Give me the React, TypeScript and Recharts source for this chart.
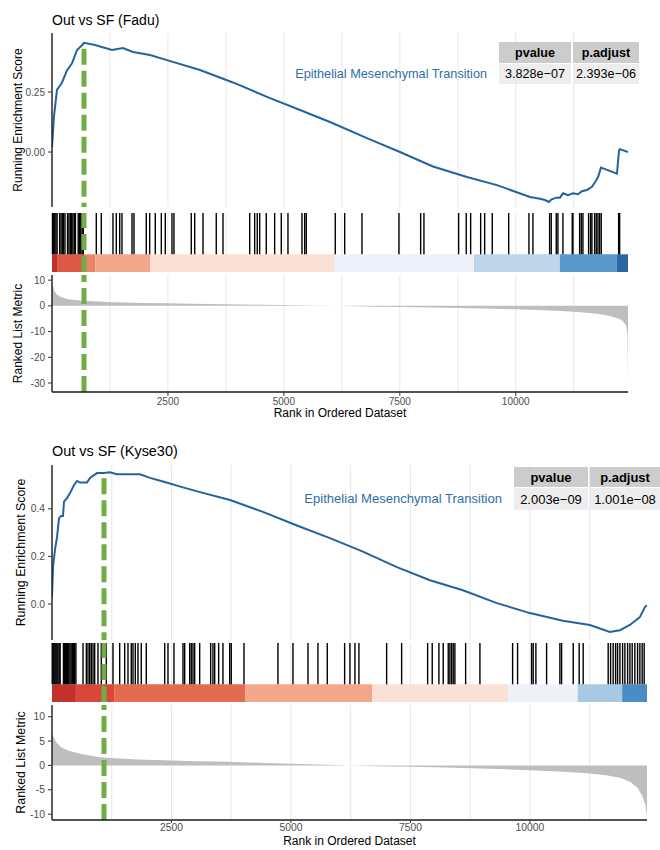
import React from 'react';
import {
  ComposedChart,
  Line,
  Area,
  XAxis,
  YAxis,
  CartesianGrid,
  ReferenceLine,
  ReferenceArea,
} from 'recharts';

const FONT = '"Liberation Sans", Arial, Helvetica, sans-serif';

// shared x axis
const gridRanks = [1250, 2500, 3750, 5000, 6250, 7500, 8750, 10000, 11250];
const rankTicks = [2500, 5000, 7500, 10000];
const geneSetName = 'Epithelial Mesenchymal Transition';

// ---------- Out vs SF (Fadu) ----------
const faduGenes = 12420;
const faduPeakRank = 690;
const faduEsRank = [0, 43, 108, 151, 216, 323, 431, 539, 647, 690, 927, 1294, 1531, 1746, 2113, 2479, 3191, 3902, 4635, 5347, 5994, 6791, 7503, 8214, 8947, 9594, 10306, 10521, 10629, 10715, 10765, 10873, 10952, 11017, 11125, 11233, 11341, 11427, 11535, 11643, 11729, 11772, 11837, 12182, 12225, 12245, 12420];
const faduEsScore = [0.02, 0.15, 0.26, 0.27, 0.29, 0.34, 0.37, 0.425, 0.445, 0.455, 0.446, 0.425, 0.433, 0.417, 0.404, 0.383, 0.342, 0.29, 0.23, 0.175, 0.125, 0.058, 0.0, -0.06, -0.104, -0.138, -0.187, -0.195, -0.2, -0.208, -0.198, -0.19, -0.19, -0.172, -0.18, -0.172, -0.176, -0.163, -0.158, -0.145, -0.12, -0.105, -0.065, -0.09, 0.005, 0.012, 0.0];
const faduHits = [10, 35, 60, 85, 110, 165, 195, 225, 250, 280, 335, 365, 395, 420, 450, 480, 505, 565, 590, 620, 650, 675, 955, 1063, 1315, 1386, 1460, 1509, 1725, 1768, 2033, 2106, 2227, 2357, 2443, 2587, 2630, 3003, 3077, 3256, 3542, 3687, 4263, 4370, 4426, 4478, 4620, 4801, 4944, 5088, 5390, 5448, 5483, 6108, 6311, 6684, 7481, 7949, 8020, 8768, 8932, 9027, 9243, 9329, 9493, 9847, 10284, 10370, 10730, 10765, 10873, 10909, 11017, 11218, 11233, 11377, 11412, 11448, 11571, 11614, 11642, 11700, 11735, 11772, 11808, 11843, 12218, 12240];
const faduBandEdges = [0, 108, 690, 930, 2120, 6100, 9100, 10950, 12180, 12420];
const faduBandLevel = [0, 2, 4, 5, 6, 7, 8, 10, 12];
const faduMetricRank = [0, 20, 50, 100, 200, 350, 500, 700, 1000, 1300, 2000, 2500, 3000, 3800, 4500, 5000, 5600, 6200, 6300, 7000, 7500, 8200, 8800, 9500, 10000, 10600, 11000, 11400, 11800, 12000, 12200, 12300, 12380, 12410, 12420];
const faduMetricValue = [10.2, 8, 5.8, 4.5, 3.3, 2.6, 2.3, 2.0, 1.7, 1.4, 1.15, 1.0, 0.85, 0.6, 0.45, 0.32, 0.18, 0.02, -0.02, -0.3, -0.45, -0.65, -0.85, -1.1, -1.35, -1.7, -2.0, -2.5, -3.2, -3.8, -4.8, -5.8, -7.5, -11, -31];
const faduPvalue = '3.828e\u221207';
const faduPadjust = '2.393e\u221206';

// ---------- Out vs SF (Kyse30) ----------
const kyseGenes = 12450;
const kysePeakRank = 1088;
const kyseEsRank = [0, 21, 63, 105, 146, 188, 230, 251, 314, 377, 460, 523, 586, 732, 795, 941, 1088, 1213, 1360, 1569, 1841, 2050, 2322, 2741, 3096, 3724, 4414, 5125, 5816, 6506, 7217, 7908, 8598, 9309, 10000, 10690, 11255, 11673, 11883, 12092, 12301, 12406, 12450];
const kyseEsScore = [0.03, 0.155, 0.23, 0.28, 0.36, 0.37, 0.37, 0.43, 0.445, 0.466, 0.5, 0.517, 0.51, 0.51, 0.53, 0.55, 0.55, 0.553, 0.545, 0.545, 0.545, 0.53, 0.515, 0.49, 0.47, 0.437, 0.387, 0.33, 0.277, 0.22, 0.155, 0.1, 0.058, 0.004, -0.038, -0.07, -0.088, -0.117, -0.11, -0.088, -0.055, -0.013, -0.005];
const kyseHits = [5, 25, 45, 65, 85, 105, 125, 150, 170, 240, 260, 280, 300, 325, 350, 375, 400, 425, 450, 475, 500, 649, 718, 753, 789, 822, 858, 893, 962, 1031, 1136, 1276, 1416, 1521, 1590, 1659, 1695, 1743, 1799, 1868, 1973, 2358, 2427, 2552, 2741, 2776, 2881, 2914, 2950, 2985, 3090, 3320, 3368, 3404, 3487, 3577, 3718, 3751, 4017, 4728, 5042, 5356, 5565, 5760, 6123, 6234, 6339, 6422, 7002, 7316, 7860, 7956, 8096, 8186, 8291, 8326, 8362, 8395, 8430, 8655, 8954, 9638, 9742, 10035, 10069, 10125, 10349, 10627, 10663, 10906, 11031, 11115, 11638, 11688, 11742, 11793, 11834, 11883, 11939, 11987, 12044, 12092, 12140, 12196, 12253, 12301, 12349, 12391];
const kyseBandEdges = [0, 500, 1300, 4040, 6700, 9540, 11000, 11930, 12450];
const kyseBandLevel = [0, 1, 3, 5, 6, 7, 9, 11];
const kyseMetricRank = [0, 20, 50, 100, 200, 350, 500, 700, 1000, 1300, 1800, 2500, 3000, 3700, 4500, 5000, 5600, 6100, 6200, 6800, 7500, 8200, 8800, 9500, 10000, 10600, 11200, 11600, 11900, 12100, 12250, 12350, 12420, 12450];
const kyseMetricValue = [7.2, 6.2, 5.4, 4.6, 3.7, 3.0, 2.6, 2.2, 1.7, 1.45, 1.2, 1.0, 0.88, 0.73, 0.5, 0.35, 0.17, 0.02, -0.02, -0.15, -0.28, -0.45, -0.6, -0.8, -1.0, -1.25, -1.6, -2.0, -2.6, -3.4, -4.6, -6.2, -8.2, -10.5];
const kysePvalue = '2.003e\u221209';
const kysePadjust = '1.001e\u221208';

// band colours, red (high metric) to blue (low metric)
const bandPalette = ['#c3312a', '#d9473a', '#dc5a45', '#e36b50', '#ea8468', '#f3a88b', '#fbe1d5', '#edf1f9', '#bed5ea', '#a8c9e4', '#5a97cb', '#4a8cc6', '#2b65a8'];

const BLUE = '#22649e';
const GREEN = '#70AD47';

const panels = [
  {
    title: 'Out vs SF (Fadu)',
    genes: faduGenes, peak: faduPeakRank,
    esRank: faduEsRank, esScore: faduEsScore, esDomain: [-0.229, 0.496], esTicks: [0, 0.25], esDigits: 2,
    hits: faduHits, bandEdges: faduBandEdges, bandLevel: faduBandLevel,
    metricRank: faduMetricRank, metricValue: faduMetricValue, metricDomain: [-33.5, 12], metricTicks: [10, 0, -10, -20, -30],
    pvalue: faduPvalue, padjust: faduPadjust,
    lay: {
      width: 640, right: 12, font: 1,
      titleTop: 12, esTop: 30, esH: 177, esMT: 3,
      hitsTop: 207, hitsH: 65, hitsMT: 6,
      metTop: 272, metH: 150, metMT: 3, xAxisH: 30, xTitleOff: 5, xTickSize: 4, xTickMargin: 2, xTitleSize: 12,
      yTitleX: 18,
      labelRight: 173, labelTop: 66,
      tableLeft: 499, tableTop: 42, colW: [72, 66], rowH: [21, 20],
    },
  },
  {
    title: 'Out vs SF (Kyse30)',
    genes: kyseGenes, peak: kysePeakRank,
    esRank: kyseEsRank, esScore: kyseEsScore, esDomain: [-0.151, 0.584], esTicks: [0, 0.2, 0.4], esDigits: 1,
    hits: kyseHits, bandEdges: kyseBandEdges, bandLevel: kyseBandLevel,
    metricRank: kyseMetricRank, metricValue: kyseMetricValue, metricDomain: [-11.2, 12.4], metricTicks: [10, 5, 0, -5, -10],
    pvalue: kysePvalue, padjust: kysePadjust,
    lay: {
      width: 660, right: 13, font: 1.03,
      titleTop: 443, esTop: 462, esH: 178, esMT: 3,
      hitsTop: 640, hitsH: 62, hitsMT: 3,
      metTop: 702, metH: 145, metMT: 3, xAxisH: 27, xTitleOff: 2, xTickSize: 3, xTickMargin: 1, xTitleSize: 12,
      yTitleX: 21,
      labelRight: 158, labelTop: 491,
      tableLeft: 514, tableTop: 467, colW: [74, 70], rowH: [20, 22],
    },
  },
];

const yTitle = (text: string, x: number, size: number) => (props: any) => {
  const vb = props.viewBox || {};
  const cy = vb.y + vb.height / 2;
  return (
    <text x={x} y={cy} transform={`rotate(-90 ${x} ${cy})`} textAnchor="middle" dominantBaseline="central"
      fontSize={size} fontFamily={FONT} fill="#000">{text}</text>
  );
};

const xTitle = (text: string, off: number, size: number) => (props: any) => {
  const vb = props.viewBox || {};
  return (
    <text x={vb.x + vb.width / 2} y={vb.y + vb.height - off} textAnchor="middle"
      fontSize={size} fontFamily={FONT} fill="#000">{text}</text>
  );
};

function GseaPanel({ p }: { p: any }) {
  const L = p.lay;
  const f = L.font;
  const esData = p.esRank.map((rank: number, i: number) => ({ rank, es: p.esScore[i] }));
  const metricData = p.metricRank.map((rank: number, i: number) => ({ rank, metric: p.metricValue[i] }));
  // hits panel needs one (invisible) series so the reference marks get drawn
  const hitData = p.hits.map((rank: number) => ({ rank, y: 1 }));
  const peakEs = Math.max(...p.esScore);
  const tick = { fill: '#4d4d4d', fontSize: 10 * f, fontFamily: FONT };
  const axisLine = { stroke: '#1a1a1a', strokeWidth: 1.4 };
  const tickLine = { stroke: '#333' };
  const grid = <CartesianGrid horizontal={false} verticalValues={gridRanks} stroke="#e8e8e8" />;
  const xAxis = (hide: boolean) => (
    <XAxis dataKey="rank" type="number" domain={[0, p.genes]} allowDataOverflow hide={hide}
      ticks={rankTicks} tick={tick} tickLine={tickLine} axisLine={axisLine} tickSize={L.xTickSize} tickMargin={L.xTickMargin}
      height={L.xAxisH} label={hide ? undefined : xTitle('Rank in Ordered Dataset', L.xTitleOff, L.xTitleSize)} />
  );

  return (
    <>
      <div style={{ position: 'absolute', left: 52, top: L.titleTop, fontSize: 14 * f, lineHeight: '16px', color: '#000', whiteSpace: 'nowrap' }}>
        {p.title}
      </div>

      <div style={{ position: 'absolute', left: 0, top: L.esTop }}>
        <ComposedChart width={L.width} height={L.esH} data={esData} margin={{ top: L.esMT, right: L.right, bottom: 0, left: 8 }}>
          {grid}
          {xAxis(true)}
          <YAxis type="number" domain={p.esDomain} allowDataOverflow ticks={p.esTicks} width={44}
            tick={tick} tickLine={tickLine} axisLine={axisLine} tickSize={4} tickMargin={3}
            tickFormatter={(v: number) => v.toFixed(p.esDigits)}
            label={yTitle('Running Enrichment Score', L.yTitleX, 12 * f)} />
          <Line type="linear" dataKey="es" stroke={BLUE} strokeWidth={2} dot={false} isAnimationActive={false} />
          <ReferenceLine segment={[{ x: p.peak, y: peakEs - 0.025 }, { x: p.peak, y: p.esDomain[0] }]}
            stroke={GREEN} strokeWidth={5} strokeDasharray="16 6" />
        </ComposedChart>
      </div>

      <div style={{ position: 'absolute', left: 0, top: L.hitsTop }}>
        <ComposedChart width={L.width} height={L.hitsH} data={hitData} margin={{ top: L.hitsMT, right: L.right, bottom: 0, left: 52 }}>
          {grid}
          {xAxis(true)}
          <YAxis type="number" domain={[0, 1]} allowDataOverflow hide />
          <Line type="linear" dataKey="y" stroke="none" dot={false} activeDot={false} isAnimationActive={false} />
          {p.hits.map((r: number) => (
            <ReferenceLine key={r} segment={[{ x: r, y: 0.3 }, { x: r, y: 1 }]} stroke="#000" strokeWidth={1.4} />
          ))}
          {p.bandLevel.map((lv: number, i: number) => (
            <ReferenceArea key={'b' + i} x1={p.bandEdges[i]} x2={p.bandEdges[i + 1]} y1={0} y2={0.3}
              fill={bandPalette[lv]} fillOpacity={1} stroke="none" />
          ))}
          <ReferenceLine x={p.peak} stroke={GREEN} strokeWidth={5} strokeDasharray="16 6" />
        </ComposedChart>
      </div>

      <div style={{ position: 'absolute', left: 0, top: L.metTop }}>
        <ComposedChart width={L.width} height={L.metH} data={metricData} margin={{ top: L.metMT, right: L.right, bottom: 0, left: 8 }}>
          {grid}
          {xAxis(false)}
          <YAxis type="number" domain={p.metricDomain} allowDataOverflow ticks={p.metricTicks} width={44}
            tick={tick} tickLine={tickLine} axisLine={axisLine} tickSize={4} tickMargin={3}
            label={yTitle('Ranked List Metric', L.yTitleX, 12 * f)} />
          <Area type="linear" dataKey="metric" baseValue={0} fill="#bebebe" fillOpacity={1} stroke="none" isAnimationActive={false} />
          <ReferenceLine x={p.peak} stroke={GREEN} strokeWidth={5} strokeDasharray="16 6" />
        </ComposedChart>
      </div>

      <div style={{ position: 'absolute', right: L.labelRight, top: L.labelTop, fontSize: 12.7 * f, lineHeight: '16px', color: '#2f6ea5', whiteSpace: 'nowrap' }}>
        {geneSetName}
      </div>

      <div style={{
        position: 'absolute', left: L.tableLeft, top: L.tableTop, display: 'grid',
        gridTemplateColumns: `${L.colW[0]}px ${L.colW[1]}px`, gridTemplateRows: `${L.rowH[0]}px ${L.rowH[1]}px`,
        columnGap: 2, rowGap: 1, fontSize: 12.6 * f, color: '#000', whiteSpace: 'nowrap',
      }}>
        {['pvalue', 'p.adjust'].map((h) => (
          <div key={h} style={{ background: '#cccccc', fontWeight: 700, display: 'flex', alignItems: 'center', justifyContent: 'center' }}>{h}</div>
        ))}
        {[p.pvalue, p.padjust].map((v: string, i: number) => (
          <div key={i} style={{ background: '#ededed', display: 'flex', alignItems: 'center', justifyContent: 'center' }}>{v}</div>
        ))}
      </div>
    </>
  );
}

export default function App() {
  return (
    <div style={{ position: 'absolute', left: 0, top: 0, width: 660, height: 850, overflow: 'hidden', background: '#fff', fontFamily: FONT }}>
      {panels.map((p) => (
        <GseaPanel key={p.title} p={p} />
      ))}
    </div>
  );
}
